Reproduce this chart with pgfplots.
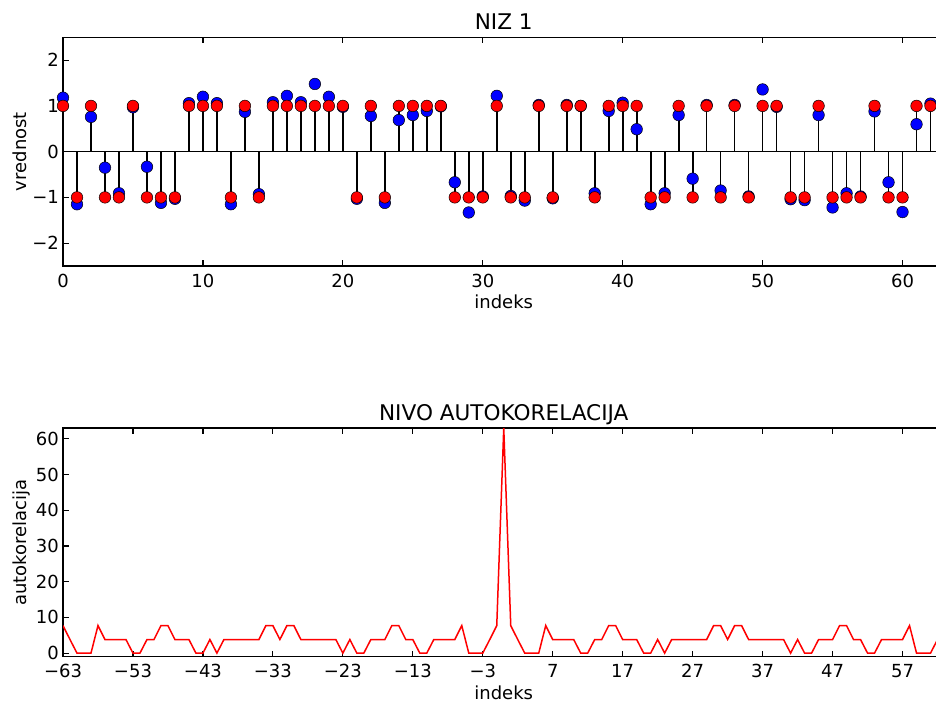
\documentclass[border=0pt]{standalone}
\usepackage{fontspec}
\setmainfont{DejaVu Sans}
\usepackage{pgfplots}
\usepackage{pgfplotstable}
\pgfplotsset{compat=1.18}

% stem data: index, noisy value (blue), code value (red)
\pgfplotstableread{
i blue red
0 1.18 1
1 -1.15 -1
2 0.76 1
3 -0.35 -1
4 -0.91 -1
5 0.97 1
6 -0.33 -1
7 -1.12 -1
8 -1.03 -1
9 1.06 1
10 1.20 1
11 1.06 1
12 -1.15 -1
13 0.87 1
14 -0.93 -1
15 1.08 1
16 1.22 1
17 1.08 1
18 1.48 1
19 1.20 1
20 0.98 1
21 -1.03 -1
22 0.78 1
23 -1.12 -1
24 0.69 1
25 0.80 1
26 0.89 1
27 0.99 1
28 -0.67 -1
29 -1.33 -1
30 -0.98 -1
31 1.22 1
32 -0.97 -1
33 -1.07 -1
34 1.02 1
35 -1.02 -1
36 1.02 1
37 1.00 1
38 -0.91 -1
39 0.89 1
40 1.07 1
41 0.49 1
42 -1.15 -1
43 -0.91 -1
44 0.80 1
45 -0.59 -1
46 1.02 1
47 -0.85 -1
48 1.02 1
49 -0.98 -1
50 1.36 1
51 0.98 1
52 -1.04 -1
53 -1.06 -1
54 0.80 1
55 -1.22 -1
56 -0.91 -1
57 -0.98 -1
58 0.88 1
59 -0.67 -1
60 -1.32 -1
61 0.60 1
62 1.05 1
63 1.00 1
}\niz

% autocorrelation level per lag
\pgfplotstableread{
k v
-63 7.7
-62 3.8
-61 0
-60 0
-59 0
-58 7.7
-57 3.8
-56 3.8
-55 3.8
-54 3.8
-53 0
-52 0
-51 3.8
-50 3.8
-49 7.7
-48 7.7
-47 3.8
-46 3.8
-45 3.8
-44 0
-43 0
-42 3.8
-41 0
-40 3.8
-39 3.8
-38 3.8
-37 3.8
-36 3.8
-35 3.8
-34 7.7
-33 7.7
-32 3.8
-31 7.7
-30 7.7
-29 3.8
-28 3.8
-27 3.8
-26 3.8
-25 3.8
-24 3.8
-23 0
-22 3.8
-21 0
-20 0
-19 3.8
-18 3.8
-17 3.8
-16 7.7
-15 7.7
-14 3.8
-13 3.8
-12 0
-11 0
-10 3.8
-9 3.8
-8 3.8
-7 3.8
-6 7.7
-5 0
-4 0
-3 0
-2 3.8
-1 7.7
0 63
1 7.7
2 3.8
3 0
4 0
5 0
6 7.7
7 3.8
8 3.8
9 3.8
10 3.8
11 0
12 0
13 3.8
14 3.8
15 7.7
16 7.7
17 3.8
18 3.8
19 3.8
20 0
21 0
22 3.8
23 0
24 3.8
25 3.8
26 3.8
27 3.8
28 3.8
29 3.8
30 7.7
31 7.7
32 3.8
33 7.7
34 7.7
35 3.8
36 3.8
37 3.8
38 3.8
39 3.8
40 3.8
41 0
42 3.8
43 0
44 0
45 3.8
46 3.8
47 3.8
48 7.7
49 7.7
50 3.8
51 3.8
52 0
53 0
54 3.8
55 3.8
56 3.8
57 3.8
58 7.7
59 0
60 0
61 0
62 3.8
63 7.7
}\akor

\pgfplotsset{
  mpl/.style={
    scale only axis, width=881.5pt, height=228.7pt,
    axis line style={line width=1.5pt},
    tick align=inside, major tick length=6pt,
    every tick/.style={black, line width=1.2pt},
    ticklabel style={font=\fontsize{18}{20}\selectfont},
    xticklabel style={anchor=base, yshift=-21pt},
    yticklabel style={anchor=east, inner sep=0pt, xshift=-4pt},
    every axis title/.style={at={([yshift=8pt]axis description cs:0.5,1)}, anchor=base, font=\fontsize{21.6}{24}\selectfont},
    every axis x label/.style={at={([yshift=-42.5pt]axis description cs:0.5,0)}, anchor=base, font=\fontsize{18}{20}\selectfont},
    every axis y label/.style={at={([xshift=-37pt]axis description cs:0,0.5)}, rotate=90, anchor=base, font=\fontsize{18}{20}\selectfont},
  },
}

\begin{document}
\begin{tikzpicture}
\begin{axis}[mpl, at={(63pt,436pt)}, anchor=south west,
  xmin=0, xmax=63, ymin=-2.5, ymax=2.5,
  xtick={0,10,...,60}, xticklabels={0,10,20,30,40,50,60},
  ytick={-2,-1,0,1,2}, yticklabels={−2,−1,0,1,2},
  title={NIZ 1}, xlabel={indeks}, ylabel={vrednost}]
\addplot[ycomb, black, line width=1.7pt, mark=none] table[x=i, y=red] {\niz};
\addplot[black, line width=1.5pt, mark=none] coordinates {(0,0) (63,0)};
\addplot[only marks, mark=*, mark size=5.8pt, mark options={fill=blue, draw=black, line width=0.5pt}] table[x=i, y=blue] {\niz};
\addplot[only marks, mark=*, mark size=5.8pt, mark options={fill=red, draw=black, line width=0.5pt}] table[x=i, y=red] {\niz};
\end{axis}

\begin{axis}[mpl, at={(63pt,45.3pt)}, anchor=south west,
  xmin=-63, xmax=63, ymin=-1, ymax=63,
  xtick={-63,-53,...,57}, xticklabels={−63,−53,−43,−33,−23,−13,−3,7,17,27,37,47,57},
  ytick={0,10,...,60}, yticklabels={0,10,20,30,40,50,60},
  title={NIVO AUTOKORELACIJA}, xlabel={indeks}, ylabel={autokorelacija}]
\addplot[red, line width=1.5pt, mark=none] table[x=k, y=v] {\akor};
\end{axis}
\pgfresetboundingbox
\path[use as bounding box] (0,0) rectangle (936pt,702pt);
\end{tikzpicture}
\end{document}
